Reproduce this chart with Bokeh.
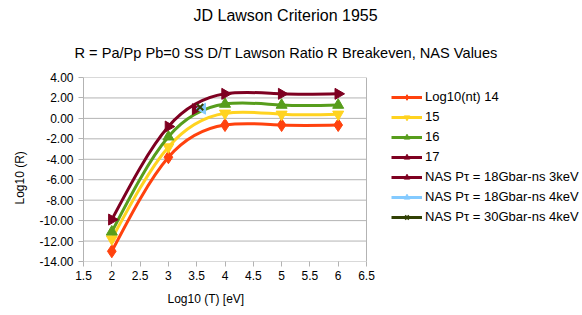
import numpy as np
from bokeh.plotting import figure
from bokeh.models import (Range1d, FixedTicker, Legend, LegendItem, Title,
                          ColumnDataSource)
from bokeh.embed import file_html
from bokeh.resources import INLINE

# ---- data ----
log_t = [2, 3, 4, 5, 6]
r_14 = [-13.0, -3.8, -0.65, -0.65, -0.65]
r_15 = [-11.8, -2.8, 0.5, 0.4, 0.4]
r_16 = [-11.1, -1.8, 1.4, 1.3, 1.3]
r_17 = [-9.9, -0.8, 2.4, 2.4, 2.4]
nas_3kev_18_x = [3.48]
nas_3kev_18_y = [0.9]
nas_4kev_18_x = [3.6]
nas_4kev_18_y = [0.95]
nas_4kev_30_x = [3.56]
nas_4kev_30_y = [1.1]

x_min, x_max = 1.5, 6.5
y_min, y_max = -14, 4
x_ticks = [1.5, 2, 2.5, 3, 3.5, 4, 4.5, 5, 5.5, 6, 6.5]
x_tick_labels = ["1.5", "2", "2.5", "3", "3.5", "4", "4.5", "5", "5.5", "6", "6.5"]
y_ticks = [4, 2, 0, -2, -4, -6, -8, -10, -12, -14]
y_tick_labels = ["4.00", "2.00", "0.00", "-2.00", "-4.00", "-6.00", "-8.00",
                 "-10.00", "-12.00", "-14.00"]

title_text = "JD Lawson Criterion 1955"
subtitle_text = "R = Pa/Pp Pb=0 SS D/T Lawson Ratio R Breakeven, NAS Values"
x_label_text = "Log10 (T) [eV]"
y_label_text = "Log10 (R)"

FONT = "Liberation Sans"
GRID = "#b3b3b3"

# layout: plot area 283 px wide, frame extended to the right to host the legend
W, H = 582, 315
LEFT, TOP, BOTTOM = 83, 77, 54
PLOT_W = 283
frame_w = W - LEFT
x_end = x_min + (x_max - x_min) * frame_w / PLOT_W

p = figure(width=W, height=H, output_backend="svg", toolbar_location=None,
           x_range=Range1d(x_min, x_end), y_range=Range1d(y_min, y_max),
           min_border_left=LEFT, min_border_right=0, min_border_top=TOP,
           min_border_bottom=BOTTOM)
p.background_fill_color = "white"
p.border_fill_color = "white"
p.outline_line_color = None

p.xaxis.ticker = FixedTicker(ticks=x_ticks)
p.yaxis.ticker = FixedTicker(ticks=y_ticks)
p.xaxis.major_label_overrides = dict(zip(x_ticks, x_tick_labels))
p.yaxis.major_label_overrides = dict(zip(y_ticks, y_tick_labels))
for ax in (p.xaxis[0], p.yaxis[0]):
    ax.axis_line_color = GRID
    ax.major_tick_line_color = GRID
    ax.minor_tick_line_color = None
    ax.major_tick_out = 5
    ax.major_tick_in = 0
    ax.major_label_text_font = FONT
    ax.major_label_text_font_size = "12px"
    ax.major_label_text_color = "#000000"
p.xaxis.axis_line_color = None
p.xaxis.major_label_standoff = 4
p.yaxis.major_label_standoff = 5

p.xgrid.grid_line_color = None
p.ygrid.grid_line_color = None

# horizontal gridlines and right edge of the plot area
p.segment(x0=x_min, x1=x_max, y0=y_ticks, y1=y_ticks, line_color=GRID, line_width=1)
p.segment(x0=[x_max], x1=[x_max], y0=[y_min], y1=[y_max], line_color=GRID, line_width=1)

# titles (subtitle first: nearest to the frame)
p.add_layout(Title(text=subtitle_text, align="left", offset=-9, standoff=34,
                   text_font=FONT, text_font_size="14.6px", text_font_style="normal",
                   text_color="#000000"), "above")
p.add_layout(Title(text=title_text, align="left", offset=110, standoff=3,
                   text_font=FONT, text_font_size="16px", text_font_style="normal",
                   text_color="#000000"), "above")
p.add_layout(Title(text=x_label_text, align="left", offset=84, standoff=14,
                   text_font=FONT, text_font_size="12px", text_font_style="normal",
                   text_color="#000000"), "below")
p.add_layout(Title(text=y_label_text, align="left", offset=57, standoff=20,
                   text_font=FONT, text_font_size="12px", text_font_style="normal",
                   text_color="#000000"), "left")


def spline_beziers(xs, ys):
    xs = np.asarray(xs, float)
    ys = np.asarray(ys, float)
    n = len(xs)
    h = np.diff(xs)
    A = np.zeros((n, n))
    b = np.zeros(n)
    A[0, 0] = 1
    A[-1, -1] = 1
    for i in range(1, n - 1):
        A[i, i - 1] = h[i - 1]
        A[i, i] = 2 * (h[i - 1] + h[i])
        A[i, i + 1] = h[i]
        b[i] = 6 * ((ys[i + 1] - ys[i]) / h[i] - (ys[i] - ys[i - 1]) / h[i - 1])
    M = np.linalg.solve(A, b)
    s = (ys[1:] - ys[:-1]) / h
    dl = s - h * (2 * M[:-1] + M[1:]) / 6
    dr = s + h * (M[:-1] + 2 * M[1:]) / 6
    return dict(x0=xs[:-1], y0=ys[:-1], x1=xs[1:], y1=ys[1:],
                cx0=xs[:-1] + h / 3, cy0=ys[:-1] + dl * h / 3,
                cx1=xs[1:] - h / 3, cy1=ys[1:] - dr * h / 3)


series = [
    ("Log10(nt) 14", r_14, "#ff420e", "diamond", 0.0, 13),
    ("15", r_15, "#ffd320", "inverted_triangle", 0.0, 11),
    ("16", r_16, "#579d1c", "triangle", 0.0, 11),
    ("17", r_17, "#7e0021", "triangle", -np.pi / 2, 11),
]

items = []
for name, ys, color, marker, ang, size in series:
    bz = ColumnDataSource(spline_beziers(log_t, ys))
    p.bezier(x0="x0", y0="y0", x1="x1", y1="y1", cx0="cx0", cy0="cy0",
             cx1="cx1", cy1="cy1", source=bz, line_color=color, line_width=3)
    lr = p.line(x=log_t[:1], y=ys[:1], line_color=color, line_width=3)
    sr = p.scatter(x=log_t, y=ys, marker=marker, angle=ang, size=size,
                   fill_color=color, line_color=color)
    items.append(LegendItem(label=name, renderers=[lr, sr]))

points = [
    ("NAS P\u03c4 = 18Gbar-ns 3keV", nas_3kev_18_x, nas_3kev_18_y, "#7e0021",
     "triangle", -np.pi / 2, 11),
    ("NAS P\u03c4 = 18Gbar-ns 4keV", nas_4kev_18_x, nas_4kev_18_y, "#83caff",
     "triangle", np.pi / 2, 11),
    ("NAS P\u03c4 = 30Gbar-ns 4keV", nas_4kev_30_x, nas_4kev_30_y, "#314004",
     "x", 0.0, 9),
]
for name, xs, ys, color, marker, ang, size in points:
    lr = p.line(x=xs, y=ys, line_color=color, line_width=3)
    sr = p.scatter(x=xs, y=ys, marker=marker, angle=ang, size=size,
                   fill_color=color, line_color=color,
                   line_width=2 if marker == "x" else 1)
    items.append(LegendItem(label=name, renderers=[lr, sr]))

legend = Legend(items=items, location=(308, 37), glyph_width=31, glyph_height=14,
                label_height=14, spacing=5, label_standoff=3, padding=0, margin=0,
                border_line_color=None, background_fill_alpha=0,
                label_text_font=FONT, label_text_font_size="13px",
                label_text_color="#000000")
p.add_layout(legend, "center")

open("out.html", "w").write(file_html(p, INLINE))
